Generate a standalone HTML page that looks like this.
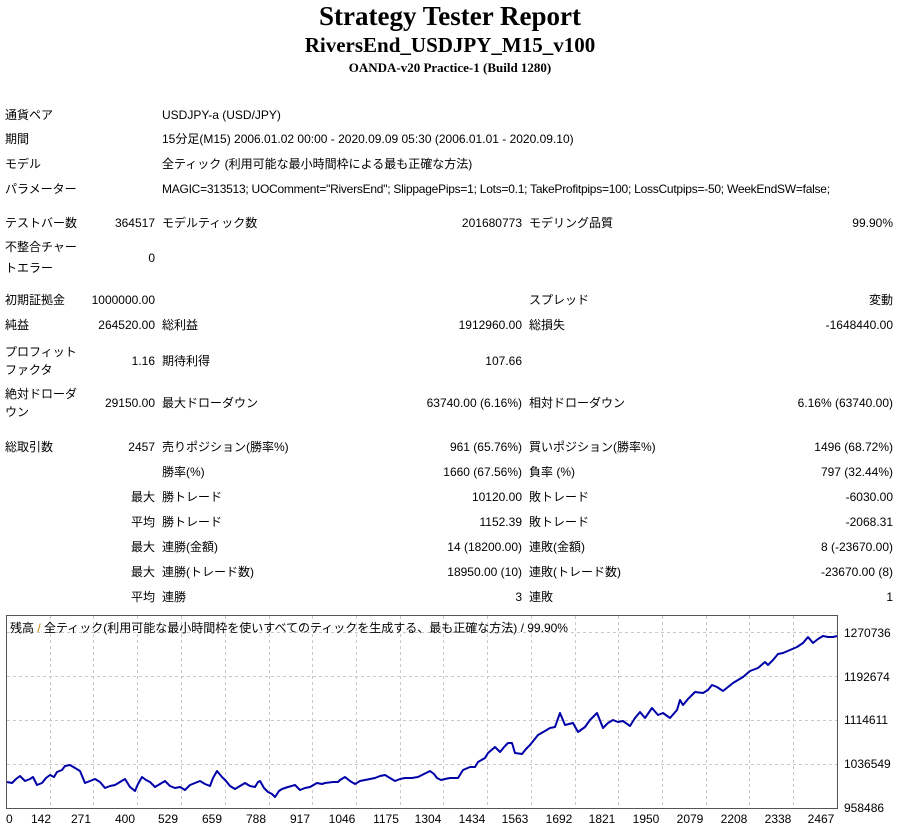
<!DOCTYPE html>
<html><head><meta charset="utf-8"><style>
body{margin:0;width:900px;height:834px;background:#fff;position:relative;overflow:hidden;font-family:"Liberation Sans","Noto Sans CJK JP",sans-serif;font-size:12px;color:#000}
.t{position:absolute;white-space:nowrap;line-height:14px}
.r{position:absolute;white-space:nowrap;line-height:14px;text-align:right}
.h{position:absolute;left:0;width:900px;text-align:center;font-family:"Liberation Serif",serif;font-weight:bold;white-space:nowrap}
</style></head><body>
<div class="h" style="top:0;font-size:27px;line-height:32px">Strategy Tester Report</div>
<div class="h" style="top:33px;font-size:21px;line-height:24px">RiversEnd_USDJPY_M15_v100</div>
<div class="h" style="top:60px;font-size:13px;line-height:16px">OANDA-v20 Practice-1 (Build 1280)</div>

<div class="t" style="left:5px;top:108px">通貨ペア</div><div class="t" style="left:162px;top:108px">USDJPY-a (USD/JPY)</div>
<div class="t" style="left:5px;top:132px">期間</div><div class="t" style="left:162px;top:132px">15分足(M15) 2006.01.02 00:00 - 2020.09.09 05:30 (2006.01.01 - 2020.09.10)</div>
<div class="t" style="left:5px;top:157px">モデル</div><div class="t" style="left:162px;top:157px">全ティック (利用可能な最小時間枠による最も正確な方法)</div>
<div class="t" style="left:5px;top:182px">パラメーター</div><div class="t" style="left:162px;top:182px;letter-spacing:-0.25px">MAGIC=313513; UOComment="RiversEnd"; SlippagePips=1; Lots=0.1; TakeProfitpips=100; LossCutpips=-50; WeekEndSW=false;</div>

<div class="t" style="left:5px;top:216px">テストバー数</div><div class="r" style="right:745px;top:216px">364517</div><div class="t" style="left:162px;top:216px">モデルティック数</div><div class="r" style="right:378px;top:216px">201680773</div><div class="t" style="left:529px;top:216px">モデリング品質</div><div class="r" style="right:7px;top:216px">99.90%</div>
<div class="t" style="left:5px;top:240px">不整合チャー</div><div class="t" style="left:5px;top:261px">トエラー</div><div class="r" style="right:745px;top:251px">0</div>

<div class="t" style="left:5px;top:293px">初期証拠金</div><div class="r" style="right:745px;top:293px">1000000.00</div><div class="t" style="left:529px;top:293px">スプレッド</div><div class="r" style="right:7px;top:293px">変動</div>
<div class="t" style="left:5px;top:318px">純益</div><div class="r" style="right:745px;top:318px">264520.00</div><div class="t" style="left:162px;top:318px">総利益</div><div class="r" style="right:378px;top:318px">1912960.00</div><div class="t" style="left:529px;top:318px">総損失</div><div class="r" style="right:7px;top:318px">-1648440.00</div>
<div class="t" style="left:5px;top:345px">プロフィット</div><div class="t" style="left:5px;top:363px">ファクタ</div><div class="r" style="right:745px;top:354px">1.16</div><div class="t" style="left:162px;top:354px">期待利得</div><div class="r" style="right:378px;top:354px">107.66</div>
<div class="t" style="left:5px;top:387px">絶対ドローダ</div><div class="t" style="left:5px;top:405px">ウン</div><div class="r" style="right:745px;top:396px">29150.00</div><div class="t" style="left:162px;top:396px">最大ドローダウン</div><div class="r" style="right:378px;top:396px">63740.00 (6.16%)</div><div class="t" style="left:529px;top:396px">相対ドローダウン</div><div class="r" style="right:7px;top:396px">6.16% (63740.00)</div>

<div class="t" style="left:5px;top:440px">総取引数</div><div class="r" style="right:745px;top:440px">2457</div><div class="t" style="left:162px;top:440px">売りポジション(勝率%)</div><div class="r" style="right:378px;top:440px">961 (65.76%)</div><div class="t" style="left:529px;top:440px">買いポジション(勝率%)</div><div class="r" style="right:7px;top:440px">1496 (68.72%)</div>
<div class="t" style="left:162px;top:465px">勝率(%)</div><div class="r" style="right:378px;top:465px">1660 (67.56%)</div><div class="t" style="left:529px;top:465px">負率 (%)</div><div class="r" style="right:7px;top:465px">797 (32.44%)</div>
<div class="r" style="right:745px;top:490px">最大</div><div class="t" style="left:162px;top:490px">勝トレード</div><div class="r" style="right:378px;top:490px">10120.00</div><div class="t" style="left:529px;top:490px">敗トレード</div><div class="r" style="right:7px;top:490px">-6030.00</div>
<div class="r" style="right:745px;top:515px">平均</div><div class="t" style="left:162px;top:515px">勝トレード</div><div class="r" style="right:378px;top:515px">1152.39</div><div class="t" style="left:529px;top:515px">敗トレード</div><div class="r" style="right:7px;top:515px">-2068.31</div>
<div class="r" style="right:745px;top:540px">最大</div><div class="t" style="left:162px;top:540px">連勝(金額)</div><div class="r" style="right:378px;top:540px">14 (18200.00)</div><div class="t" style="left:529px;top:540px">連敗(金額)</div><div class="r" style="right:7px;top:540px">8 (-23670.00)</div>
<div class="r" style="right:745px;top:565px">最大</div><div class="t" style="left:162px;top:565px">連勝(トレード数)</div><div class="r" style="right:378px;top:565px">18950.00 (10)</div><div class="t" style="left:529px;top:565px">連敗(トレード数)</div><div class="r" style="right:7px;top:565px">-23670.00 (8)</div>
<div class="r" style="right:745px;top:590px">平均</div><div class="t" style="left:162px;top:590px">連勝</div><div class="r" style="right:378px;top:590px">3</div><div class="t" style="left:529px;top:590px">連敗</div><div class="r" style="right:7px;top:590px">1</div>

<svg style="position:absolute;left:0;top:0" width="900" height="834">
<g stroke="#c8c8c8" stroke-dasharray="3,3" stroke-width="1">
<line x1="7" x2="837" y1="632.5" y2="632.5"/><line x1="7" x2="837" y1="676.5" y2="676.5"/><line x1="7" x2="837" y1="720.5" y2="720.5"/><line x1="7" x2="837" y1="764.5" y2="764.5"/>
<line x1="50.5" x2="50.5" y1="616" y2="808"/><line x1="93.5" x2="93.5" y1="616" y2="808"/><line x1="137.5" x2="137.5" y1="616" y2="808"/><line x1="181.5" x2="181.5" y1="616" y2="808"/><line x1="225.5" x2="225.5" y1="616" y2="808"/><line x1="269.5" x2="269.5" y1="616" y2="808"/><line x1="312.5" x2="312.5" y1="616" y2="808"/><line x1="356.5" x2="356.5" y1="616" y2="808"/><line x1="400.5" x2="400.5" y1="616" y2="808"/><line x1="443.5" x2="443.5" y1="616" y2="808"/><line x1="487.5" x2="487.5" y1="616" y2="808"/><line x1="531.5" x2="531.5" y1="616" y2="808"/><line x1="575.5" x2="575.5" y1="616" y2="808"/><line x1="618.5" x2="618.5" y1="616" y2="808"/><line x1="662.5" x2="662.5" y1="616" y2="808"/><line x1="706.5" x2="706.5" y1="616" y2="808"/><line x1="749.5" x2="749.5" y1="616" y2="808"/><line x1="793.5" x2="793.5" y1="616" y2="808"/>
</g>
<rect x="6.5" y="615.5" width="831" height="193" fill="none" stroke="#555" stroke-width="1"/>
<polyline fill="none" stroke="#0000a8" stroke-width="2" stroke-linejoin="round" points="7,782 12,783 16,779 20,776 25,781 30,779 33,777 37,785 42,783 46,778 50,775 54,777 57,772 62,770 65,766 70,765 75,768 80,771 85,783 90,781 95,779 100,782 105,788 110,786 115,785 120,782 125,779 130,787 135,791 138,784 142,777 146,780 150,782 155,787 160,784 165,781 170,786 175,788 180,787 185,790 190,785 195,783 200,781 205,784 210,786 213,778 217,771 222,777 226,781 230,786 235,789 240,786 245,783 250,786 255,787 258,782 260,781 264,788 268,792 272,794 275,797 279,791 282,789 288,787 295,785 300,790 305,788 310,787 317,783 322,784 325,783 333,782 338,782 340,780 345,777 350,781 355,784 360,781 365,780 370,779 375,778 380,776 385,775 390,778 395,781 400,779 405,778 412,778 418,777 424,774 430,771 434,774 437,778 441,780 445,779 450,778 458,778 463,770 470,767 475,767 478,762 485,758 488,753 495,747 500,752 505,746 508,743 512,743 515,753 522,754 526,749 530,745 538,735 545,731 550,728 555,727 560,713 565,725 573,723 578,732 585,727 590,720 597,713 603,728 608,723 613,720 618,722 623,721 630,726 635,718 640,712 645,718 652,708 658,715 663,713 670,718 677,710 680,700 683,705 688,699 695,692 703,693 708,690 712,685 717,687 723,691 728,687 733,683 738,680 743,677 750,671 758,668 765,662 768,665 773,660 778,654 783,653 790,650 797,647 803,643 808,637 813,643 818,639 823,636 828,637 833,637 837,636"/>
</svg>
<div class="t" style="left:10px;top:621px">残高 <span style="color:#c08000">/</span> 全ティック(利用可能な最小時間枠を使いすべてのティックを生成する、最も正確な方法) / 99.90%</div>

<div class="t" style="left:844px;top:626px">1270736</div>
<div class="t" style="left:844px;top:670px">1192674</div>
<div class="t" style="left:844px;top:713px">1114611</div>
<div class="t" style="left:844px;top:757px">1036549</div>
<div class="t" style="left:844px;top:801px">958486</div>

<div class="t" style="left:6px;top:812px">0</div>
<div class="t" style="left:26px;top:812px;width:30px;text-align:center">142</div>
<div class="t" style="left:66px;top:812px;width:30px;text-align:center">271</div>
<div class="t" style="left:110px;top:812px;width:30px;text-align:center">400</div>
<div class="t" style="left:153px;top:812px;width:30px;text-align:center">529</div>
<div class="t" style="left:197px;top:812px;width:30px;text-align:center">659</div>
<div class="t" style="left:241px;top:812px;width:30px;text-align:center">788</div>
<div class="t" style="left:285px;top:812px;width:30px;text-align:center">917</div>
<div class="t" style="left:322px;top:812px;width:40px;text-align:center">1046</div>
<div class="t" style="left:366px;top:812px;width:40px;text-align:center">1175</div>
<div class="t" style="left:408px;top:812px;width:40px;text-align:center">1304</div>
<div class="t" style="left:452px;top:812px;width:40px;text-align:center">1434</div>
<div class="t" style="left:495px;top:812px;width:40px;text-align:center">1563</div>
<div class="t" style="left:539px;top:812px;width:40px;text-align:center">1692</div>
<div class="t" style="left:582px;top:812px;width:40px;text-align:center">1821</div>
<div class="t" style="left:626px;top:812px;width:40px;text-align:center">1950</div>
<div class="t" style="left:670px;top:812px;width:40px;text-align:center">2079</div>
<div class="t" style="left:714px;top:812px;width:40px;text-align:center">2208</div>
<div class="t" style="left:758px;top:812px;width:40px;text-align:center">2338</div>
<div class="t" style="left:801px;top:812px;width:40px;text-align:center">2467</div>
</body></html>
